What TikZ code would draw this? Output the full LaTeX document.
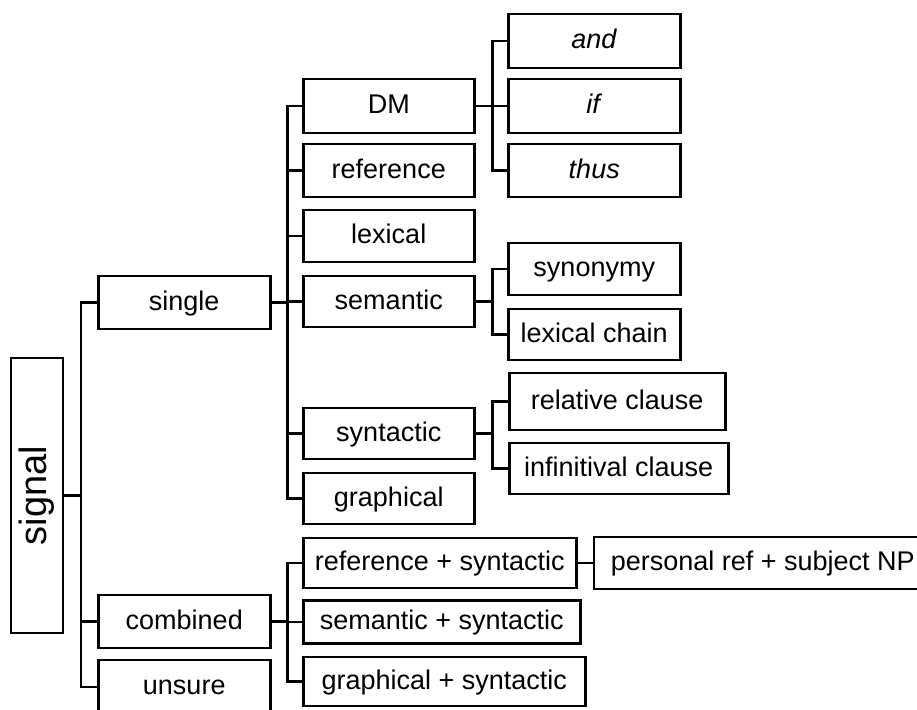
\documentclass[tikz,border=0pt]{standalone}
\usepackage{fontspec}
\setmainfont{Liberation Sans}
\usetikzlibrary{positioning}

\begin{document}
\begin{tikzpicture}[x=1pt, y=-1pt, every node/.style={font=\fontsize{27}{32}\selectfont,align=center},
  box/.style={draw,line width=2.5pt,inner sep=0pt,anchor=west,minimum width=172pt,minimum height=53pt,text height=20pt,text depth=5pt},
  link/.style={line width=2.2pt}]
  \useasboundingbox[fill=white] (0,0) rectangle (917,709);
  % root and first level
  \node[box,anchor=center,minimum width=52pt,minimum height=275pt,text height=,text depth=] (signal) at (37,495.5) {\rotatebox{90}{\fontsize{38}{44}\selectfont signal}};
  \node[box] (single) at (97,302.5) {single};
  \node[box] (combined) at (97,621.5) {combined};
  \node[box,minimum height=54pt] (unsure) at (97,687) {unsure};
  % single
  \node[box,minimum width=171pt,minimum height=54pt] (dm) at (302,106) {DM};
  \node[box,minimum width=171pt] (reference) at (302,170.5) {reference};
  \node[box,minimum width=171pt,minimum height=52pt] (lexical) at (302,236) {lexical};
  \node[box,minimum width=171pt,minimum height=51pt] (semantic) at (302,301.5) {semantic};
  \node[box,minimum width=171pt,minimum height=51pt] (syntactic) at (302,433.5) {syntactic};
  \node[box,minimum width=171pt,minimum height=51pt] (graphical) at (302,498.5) {graphical};
  % DM
  \node[box,minimum height=54pt] (and) at (507,41) {\textit{and}};
  \node[box,minimum height=54pt] (if) at (507,106) {\textit{if}};
  \node[box] (thus) at (507,170.5) {\textit{thus}};
  % semantic, syntactic
  \node[box,minimum height=52pt] (synonymy) at (507,269) {synonymy};
  \node[box,minimum height=51pt] (lexchain) at (507,334.5) {lexical chain};
  \node[box,minimum width=216pt,minimum height=57pt] (relclause) at (508,401.5) {relative clause};
  \node[box,minimum width=219pt,minimum height=51pt] (infclause) at (508,468.5) {infinitival clause};
  % combined
  \node[box,minimum width=273pt,minimum height=50pt] (refsyn) at (302,563) {reference + syntactic};
  \node[box,minimum width=277pt,minimum height=43pt] (semsyn) at (302,622) {semantic + syntactic};
  \node[box,minimum width=282pt,minimum height=49pt] (graphsyn) at (302,681.5) {graphical + syntactic};
  \node[box,minimum width=338pt,minimum height=52pt,right=15pt of refsyn] (personal) {personal ref + subject NP};

  \draw[link] (signal.east) -- ++(17,0) |- (single.west);
  \draw[link] (signal.east) -- ++(17,0) |- (combined.west);
  \draw[link] (signal.east) -- ++(17,0) |- (unsure.west);

  \draw[link] (single.east) -- ++(16,0) |- (dm.west);
  \draw[link] (single.east) -- ++(16,0) |- (reference.west);
  \draw[link] (single.east) -- ++(16,0) |- (lexical.west);
  \draw[link] (single.east) -- ++(16,0) |- (semantic.west);
  \draw[link] (single.east) -- ++(16,0) |- (syntactic.west);
  \draw[link] (single.east) -- ++(16,0) |- (graphical.west);

  \draw[link] (dm.east) -- ++(17,0) |- (and.west);
  \draw[link] (dm.east) -- ++(17,0) |- (if.west);
  \draw[link] (dm.east) -- ++(17,0) |- (thus.west);

  \draw[link] (semantic.east) -- ++(17,0) |- (synonymy.west);
  \draw[link] (semantic.east) -- ++(17,0) |- (lexchain.west);
  \draw[link] (syntactic.east) -- ++(17,0) |- (relclause.west);
  \draw[link] (syntactic.east) -- ++(17,0) |- (infclause.west);

  \draw[link] (combined.east) -- ++(16,0) |- (refsyn.west);
  \draw[link] (combined.east) -- ++(16,0) |- (semsyn.west);
  \draw[link] (combined.east) -- ++(16,0) |- (graphsyn.west);
  \draw[link] (refsyn) -- (personal);
\end{tikzpicture}
\end{document}
